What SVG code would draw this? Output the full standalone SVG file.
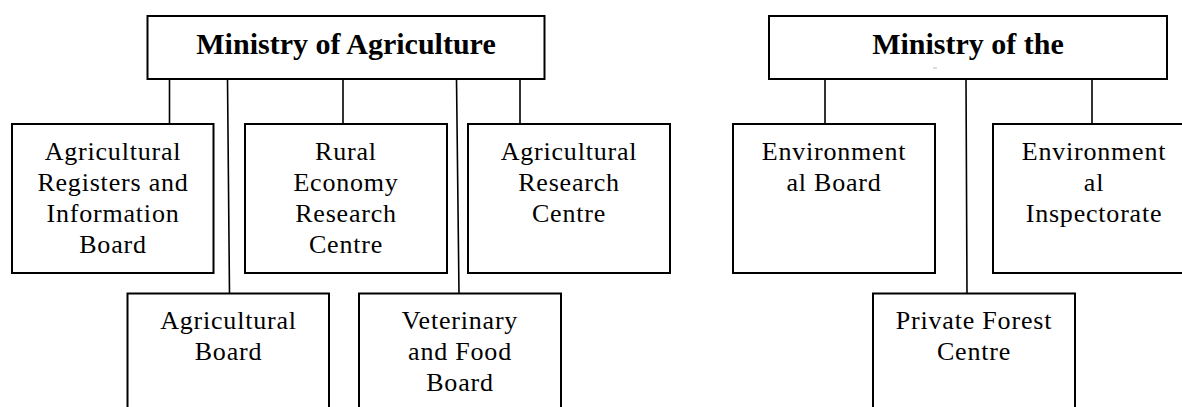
<svg xmlns="http://www.w3.org/2000/svg" width="1182" height="407" viewBox="0 0 1182 407">
<style>
.box{fill:#fff;stroke:#000;stroke-width:2}
.con{fill:none;stroke:#000;stroke-width:1.6}
.t{font-family:"Liberation Serif","Times New Roman",serif;font-size:26px;letter-spacing:0.8px;text-anchor:middle;fill:#000}
.h{font-family:"Liberation Serif","Times New Roman",serif;font-size:30px;font-weight:bold;text-anchor:middle;fill:#000}
</style>
<rect width="1182" height="407" fill="#fff"/>
<g id="connectors">
<path class="con" d="M169.5 79V124M227.5 79L229.5 293.5M343 79V124M456.5 79L459 293.5M520 79V124"/>
<path class="con" d="M825 79V124M966 79L967 293.5M1092 79V124"/>
</g>
<g id="ministry-agriculture">
<rect class="box" x="147.5" y="16" width="397" height="63"/>
<text class="h" x="346" y="54">Ministry of Agriculture</text>
</g>
<g id="ministry-environment">
<rect class="box" x="769" y="16" width="398" height="63"/>
<text class="h" x="968" y="54">Ministry of the</text>
<rect x="933" y="67.5" width="4" height="1" fill="#bbb"/>
</g>
<g id="agri-registers">
<rect class="box" x="12" y="124" width="201.5" height="149"/>
<text class="t" x="113" y="160">Agricultural</text>
<text class="t" x="113" y="191">Registers and</text>
<text class="t" x="113" y="222">Information</text>
<text class="t" x="113" y="253">Board</text>
</g>
<g id="rural-economy">
<rect class="box" x="245" y="124" width="202" height="149"/>
<text class="t" x="346" y="160">Rural</text>
<text class="t" x="346" y="191">Economy</text>
<text class="t" x="346" y="222">Research</text>
<text class="t" x="346" y="253">Centre</text>
</g>
<g id="agri-research">
<rect class="box" x="468" y="124" width="202" height="149"/>
<text class="t" x="569" y="160">Agricultural</text>
<text class="t" x="569" y="191">Research</text>
<text class="t" x="569" y="222">Centre</text>
</g>
<g id="agri-board">
<rect class="box" x="127.5" y="293.5" width="201.5" height="130"/>
<text class="t" x="228.5" y="329">Agricultural</text>
<text class="t" x="228.5" y="360">Board</text>
</g>
<g id="vet-food">
<rect class="box" x="359" y="293.5" width="202" height="130"/>
<text class="t" x="460" y="329">Veterinary</text>
<text class="t" x="460" y="360">and Food</text>
<text class="t" x="460" y="391">Board</text>
</g>
<g id="env-board">
<rect class="box" x="733" y="124" width="202" height="149"/>
<text class="t" x="834" y="160">Environment</text>
<text class="t" x="834" y="191">al Board</text>
</g>
<g id="env-inspectorate">
<rect class="box" x="993" y="124" width="202" height="149"/>
<text class="t" x="1094" y="160">Environment</text>
<text class="t" x="1094" y="191">al</text>
<text class="t" x="1094" y="222">Inspectorate</text>
</g>
<g id="private-forest">
<rect class="box" x="873" y="293.5" width="202" height="130"/>
<text class="t" x="974" y="329">Private Forest</text>
<text class="t" x="974" y="360">Centre</text>
</g>
</svg>
